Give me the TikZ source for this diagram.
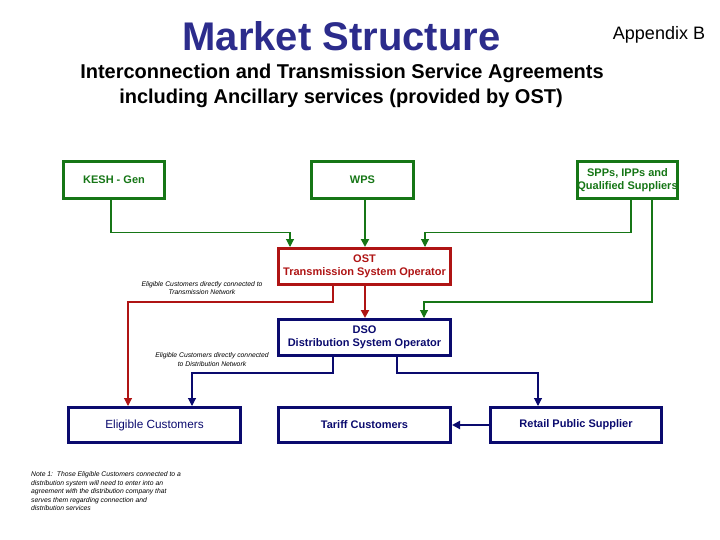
\documentclass[tikz,border=0pt]{standalone}
\usepackage{fontspec}
\setmainfont{Liberation Sans}
\usetikzlibrary{arrows.meta}
\definecolor{titleblue}{RGB}{44,44,140}
\definecolor{gcol}{RGB}{22,118,22}
\definecolor{rcol}{RGB}{175,20,20}
\definecolor{ncol}{RGB}{10,10,110}
\tikzset{
  box/.style={draw, line width=3pt, inner sep=0pt, align=center, font=\fontsize{11}{13}\selectfont\bfseries},
  gbox/.style={box, draw=gcol, text=gcol},
  rbox/.style={box, draw=rcol, text=rcol},
  nbox/.style={box, draw=ncol, text=ncol},
  tip/.style={-{Triangle[length=8pt,width=8pt]}},
  garr/.style={tip, draw=gcol, line width=1.1pt},
  rarr/.style={tip, draw=rcol, line width=1.1pt},
  narr/.style={tip, draw=ncol, line width=1.1pt},
  small/.style={font=\fontsize{6.8}{8.5}\selectfont\itshape, align=center, inner sep=0pt},
}
\begin{document}
\begin{tikzpicture}[x=1pt,y=-1pt]
\useasboundingbox (0,0) rectangle (720,540);
% titles
\node[anchor=base, text=titleblue, font=\fontsize{40}{44}\selectfont\bfseries, inner sep=0pt] (title) at (341.5,51) {Market Structure};
\node[anchor=base, font=\fontsize{18}{20}\selectfont, inner sep=0pt] (app) at (659,39.5) {Appendix B};
\node[anchor=base, font=\fontsize{20}{24}\selectfont\bfseries, inner sep=0pt] (sub1) at (342,78.5) {Interconnection and Transmission Service Agreements};
\node[anchor=base, font=\fontsize{20}{24}\selectfont\bfseries, inner sep=0pt] (sub2) at (341,103.5) {including Ancillary services (provided by OST)};
% boxes
\node[gbox, minimum width=101pt, minimum height=37pt] (kesh) at (114,180) {KESH - Gen};
\node[gbox, minimum width=102pt, minimum height=37pt] (wps) at (362.5,180) {WPS};
\node[gbox, minimum width=100pt, minimum height=37pt] (spp) at (627.5,180) {SPPs, IPPs and\\Qualified Suppliers};
\node[rbox, minimum width=172pt, minimum height=36pt] (ost) at (364.5,266.5) {OST\\Transmission System Operator};
\node[nbox, minimum width=172pt, minimum height=36pt] (dso) at (364.5,337.5) {DSO\\Distribution System Operator};
\node[nbox, minimum width=172pt, minimum height=35pt, font=\fontsize{11.8}{13}\selectfont] (elig) at (154.5,425) {Eligible Customers};
\node[nbox, minimum width=172pt, minimum height=35pt] (tariff) at (364.5,425) {Tariff Customers};
\node[nbox, minimum width=171pt, minimum height=35pt] (retail) at (576,425) {Retail Public Supplier};
% connectors
\draw[garr] (kesh.south -| 111,0) |- (290,232.5) -- (ost.north -| 290,0);
\draw[garr, line width=2pt] (wps.south -| 365,0) -- (ost.north -| 365,0);
\draw[garr] (spp.south -| 631,0) |- (425,232.5) -- (ost.north -| 425,0);
\draw[garr] (spp.south -| 652,0) |- (424,302) -- (dso.north -| 424,0);
\draw[rarr, line width=2pt] (ost.south -| 365,0) -- (dso.north -| 365,0);
\draw[rarr] (ost.south -| 333,0) |- (128,302) -- (elig.north -| 128,0);
\draw[narr] (dso.south -| 333,0) |- (192,373) -- (elig.north -| 192,0);
\draw[narr] (dso.south -| 397,0) |- (538,373) -- (retail.north -| 538,0);
\draw[narr, line width=2pt] (retail.west) -- (tariff.east);
% small labels
\node[small] (l1) at (202,288) {Eligible Customers directly connected to\\Transmission Network};
\node[small] (l2) at (212,359.5) {Eligible Customers directly connected\\to Distribution Network};
\node[small, align=left, anchor=north west] (note) at (31,471.5) {Note 1:\ \ Those Eligible Customers connected to a\\distribution system will need to enter into an\\agreement with the distribution company that\\serves them regarding connection and\\distribution services};
\end{tikzpicture}
\end{document}
